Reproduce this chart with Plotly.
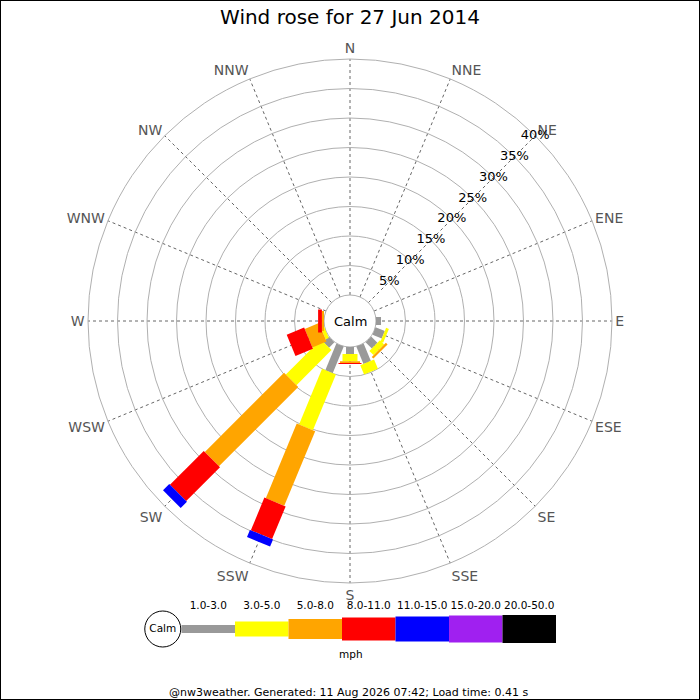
import plotly.graph_objects as go

# --- Data ---
directions = ["N", "NNE", "NE", "ENE", "E", "ESE", "SE", "SSE",
              "S", "SSW", "SW", "WSW", "W", "WNW", "NW", "NNW"]
angles = [i * 22.5 for i in range(len(directions))]

speed_classes = ["1.0-3.0", "3.0-5.0", "5.0-8.0", "8.0-11.0",
                 "11.0-15.0", "15.0-20.0", "20.0-50.0"]
class_colors = ["#999999", "#ffff00", "#ffa500", "#ff0000",
                "#0000ff", "#a020f0", "#000000"]
class_widths = [8, 15, 20, 23, 25, 27, 28]

# frequency (%) per direction, one list per speed class
freq_1_3 = [0, 0, 0, 0, 0.85, 1.7, 1.5, 3.2, 1.2, 4.9, 1.3, 0, 0, 0, 0, 0]
freq_3_5 = [0, 0, 0, 0, 0, 0.5, 1.0, 1.7, 1.2, 10.2, 8.4, 0.6, 0, 0, 0, 0]
freq_5_8 = [0, 0, 0, 0, 0, 0, 0.4, 0, 0.3, 13.7, 19.0, 2.6, 0.35, 0, 0, 0]
freq_8_11 = [0, 0, 0, 0, 0, 0, 0, 0, 0.2, 6.0, 8.1, 3.2, 0.65, 0, 0, 0]
freq_11_15 = [0, 0, 0, 0, 0, 0, 0, 0, 0, 1.3, 1.5, 0, 0, 0, 0, 0]
freq_15_20 = [0] * 16
freq_20_50 = [0] * 16
freqs = [freq_1_3, freq_3_5, freq_5_8, freq_8_11, freq_11_15, freq_15_20, freq_20_50]

ring_vals = [0, 5, 10, 15, 20, 25, 30, 35, 40]

title_text = "Wind rose for 27 Jun 2014"
footer_text = "@nw3weather. Generated: 11 Aug 2026 07:42; Load time: 0.41 s"

FONT = "DejaVu Sans"
W = H = 700
cx, cy, rad = 350, 321, 262
hole_px = 26

fig = go.Figure()

# --- Rose bars: one line segment per direction/class, stacked outwards ---
base = [0.0] * len(directions)
for name, color, width, vals in zip(speed_classes, class_colors, class_widths, freqs):
    rr, tt = [], []
    for i, v in enumerate(vals):
        if v > 0:
            rr += [base[i], base[i] + v, None]
            tt += [angles[i], angles[i], None]
            base[i] += v
    fig.add_trace(go.Scatterpolar(
        r=rr, theta=tt, mode="lines", connectgaps=False,
        line=dict(color=color, width=width), name=name,
        showlegend=False, hoverinfo="skip"
    ))

# radial % labels along the NE spoke
fig.add_trace(go.Scatterpolar(
    r=ring_vals[1:], theta=[45] * (len(ring_vals) - 1), mode="text",
    text=[f"{v}%" for v in ring_vals[1:]],
    textfont=dict(family=FONT, size=13, color="black"),
    showlegend=False, hoverinfo="skip"
))

# --- Speed legend strip (cartesian subplot) ---
for i, (name, color, width) in enumerate(zip(speed_classes, class_colors, class_widths)):
    fig.add_trace(go.Scatter(
        x=[i, i + 1], y=[0, 0], mode="lines",
        line=dict(color=color, width=width),
        xaxis="x", yaxis="y", showlegend=False, hoverinfo="skip"
    ))
fig.add_trace(go.Scatter(
    x=[i + 0.5 for i in range(len(speed_classes))], y=[0.75] * len(speed_classes),
    mode="text", text=speed_classes,
    textfont=dict(family=FONT, size=10.5, color="black"),
    xaxis="x", yaxis="y", showlegend=False, hoverinfo="skip"
))
fig.add_trace(go.Scatter(
    x=[-0.35], y=[0], mode="markers+text", text=["Calm"],
    textposition="middle center",
    textfont=dict(family=FONT, size=10.5, color="black"),
    marker=dict(size=36, color="white", line=dict(color="black", width=1)),
    xaxis="x", yaxis="y", showlegend=False, hoverinfo="skip"
))

fig.update_layout(
    width=W, height=H,
    margin=dict(l=0, r=0, t=0, b=0),
    paper_bgcolor="white", plot_bgcolor="white",
    font=dict(family=FONT, color="black"),
    title=dict(text=title_text, x=0.5, xanchor="center", y=1 - 17 / H,
               yanchor="middle", font=dict(family=FONT, size=20, color="black")),
    polar=dict(
        domain=dict(x=[(cx - rad) / W, (cx + rad) / W],
                    y=[1 - (cy + rad) / H, 1 - (cy - rad) / H]),
        hole=hole_px / rad,
        bgcolor="white",
        radialaxis=dict(range=[0, 40], tickmode="array", tickvals=ring_vals,
                        showticklabels=False, ticks="", showline=False,
                        gridcolor="#b0b0b0", gridwidth=1, layer="below traces"),
        angularaxis=dict(rotation=90, direction="clockwise", thetaunit="degrees",
                         tickmode="array", tickvals=angles, ticktext=directions,
                         ticks="", showline=True, linecolor="#b0b0b0", linewidth=1,
                         gridcolor="#666666", griddash="dot", gridwidth=1,
                         tickfont=dict(family=FONT, size=14, color="#555555"),
                         layer="below traces"),
    ),
    xaxis=dict(domain=[128 / W, 556 / W], range=[-1, 7], visible=False, fixedrange=True),
    yaxis=dict(domain=[1 - 659 / H, 1 - 599 / H], range=[-1, 1], visible=False, fixedrange=True),
    annotations=[
        dict(text="Calm", x=cx / W, y=1 - cy / H, xref="paper", yref="paper",
             xanchor="center", yanchor="middle", showarrow=False,
             font=dict(family=FONT, size=13, color="black")),
        dict(text="mph", x=351 / W, y=1 - 654 / H, xref="paper", yref="paper",
             xanchor="center", yanchor="middle", showarrow=False,
             font=dict(family=FONT, size=10.5, color="black")),
        dict(text=footer_text, x=348 / W, y=1 - 692 / H, xref="paper", yref="paper",
             xanchor="center", yanchor="middle", showarrow=False,
             font=dict(family=FONT, size=11, color="black")),
    ],
    shapes=[dict(type="rect", xref="paper", yref="paper", x0=0, x1=1, y0=0, y1=1,
                 line=dict(color="black", width=2), fillcolor="rgba(0,0,0,0)")],
)

# drop the browser's default body margin so the 700x700 figure fills the window
fig.write_html(
    "out.html",
    config={"displayModeBar": False},
    post_script="document.body.style.margin='0';document.body.style.overflow='hidden';",
)
